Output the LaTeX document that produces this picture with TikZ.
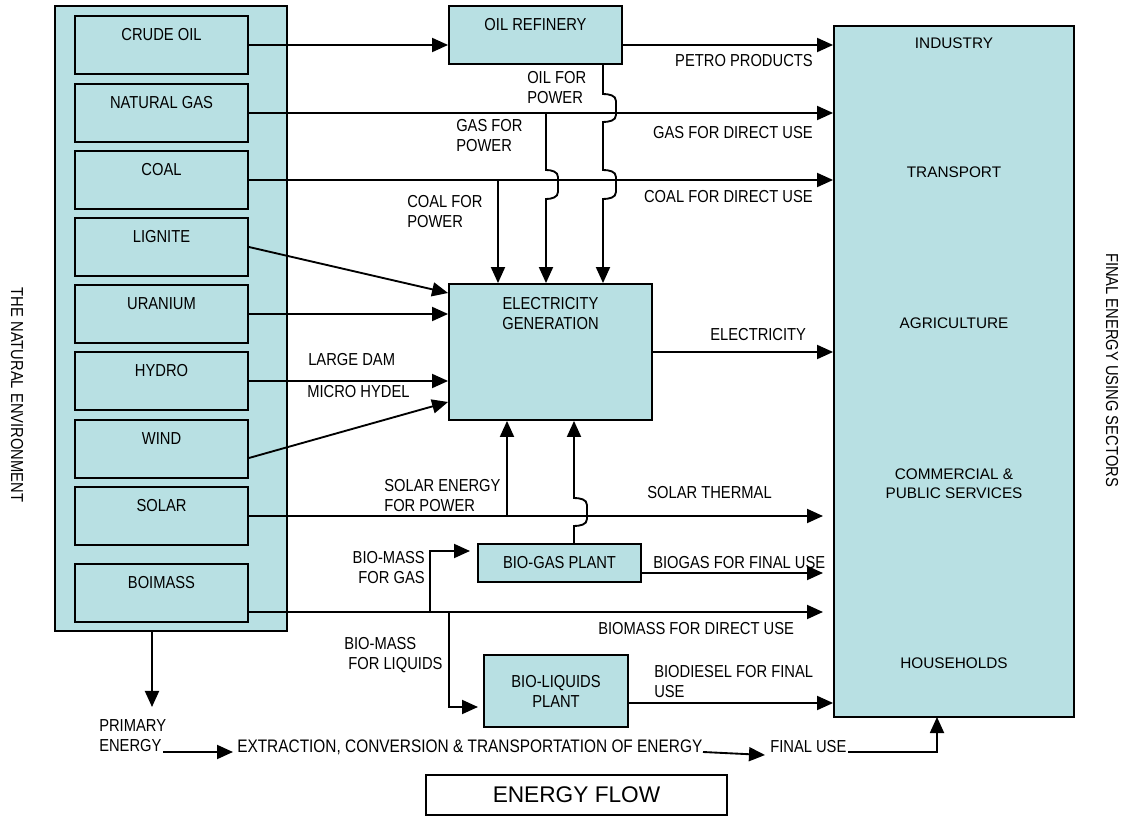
\documentclass[tikz,border=0pt]{standalone}
\usepackage{fontspec}
\setmainfont{Liberation Sans}
\newfontfamily\cond{Liberation Sans}[FakeStretch=0.85]
\usetikzlibrary{arrows.meta,calc}
\definecolor{teal1}{RGB}{184,224,227}
\begin{document}
\begin{tikzpicture}[x=0.75pt,y=-0.75pt,font=\cond\fontsize{13}{15}\selectfont]
\tikzset{
 box/.style={draw, fill=teal1, line width=1.4pt, inner sep=0pt},
 srcbox/.style={box, minimum width=129.75pt, minimum height=43.5pt, text height=18.75pt, text depth=24.75pt},
 lab/.style={inner sep=0pt, align=left},
 conn/.style={line width=1.4pt},
 arr/.style={conn, -{Triangle[length=12pt,width=10.5pt]}},
 seclab/.style={font=\rmfamily\fontsize{11.5}{14}\selectfont, align=center, inner sep=0pt},
}
\useasboundingbox (0,0) rectangle (1133,816);

% natural environment
\node[box, minimum width=174pt, minimum height=468.75pt] (env) at (171,318.5) {};
\node[srcbox] (crude) at (161.5,45) {CRUDE OIL};
\node[srcbox] (natgas) at (161.5,113) {NATURAL GAS};
\node[srcbox] (coal) at (161.5,180) {COAL};
\node[srcbox] (lignite) at (161.5,247) {LIGNITE};
\node[srcbox] (uranium) at (161.5,314) {URANIUM};
\node[srcbox] (hydro) at (161.5,381) {HYDRO};
\node[srcbox] (wind) at (161.5,449) {WIND};
\node[srcbox] (solar) at (161.5,516) {SOLAR};
\node[srcbox] (biomass) at (161.5,593) {BOIMASS};
\node[lab, rotate=-90] (natenv) at (17,395) {THE NATURAL ENVIRONMENT};

% processes
\node[srcbox] (refinery) at (535.5,35) {OIL REFINERY};
\node[box, minimum width=152.25pt, minimum height=102pt] (elec) at (550.5,352) {};
\node[lab, align=center, anchor=north] (elecL) at (550.5,297) {ELECTRICITY\\GENERATION};
\node[box, minimum width=122.25pt, minimum height=28.5pt] (biogas) at (559.5,563) {BIO-GAS PLANT};
\node[box, minimum width=108pt, minimum height=54pt, align=center] (bioliq) at (556,691) {BIO-LIQUIDS\\PLANT};

% sectors
\node[box, minimum width=180pt, minimum height=518.25pt] (sectors) at (954,371.5) {};
\node[seclab] (industry) at (954,43) {INDUSTRY};
\node[seclab] (transport) at (954,172) {TRANSPORT};
\node[seclab] (agri) at (954,323) {AGRICULTURE};
\node[seclab] (comm) at (954,484) {COMMERCIAL \&\\PUBLIC SERVICES};
\node[seclab] (house) at (954,663) {HOUSEHOLDS};
\node[lab, rotate=-90] (finsec) at (1112,370) {FINAL ENERGY USING SECTORS};

% coordinates
\coordinate (pp) at ($(refinery.east)+(0,10)$);
\coordinate (cp) at (498,180);
\coordinate (gp) at (546,113);
\coordinate (op) at (603,64);
\coordinate (sp) at (507,516);
\coordinate (bgup) at (574,544);
\coordinate (solarend) at (823,516);
\coordinate (bmstart) at ($(biomass.east)+(0,19)$);
\coordinate (bmend) at (823,612);
\coordinate (bgout) at ($(biogas.east)+(0,10)$);
\coordinate (bgend) at (823,573);
\coordinate (bmg) at (430,612);
\coordinate (bgin) at (470,551);
\coordinate (bml) at (449,612);
\coordinate (blin) at (478,707);
\coordinate (bdout) at ($(bioliq.east)+(0,12)$);
\coordinate (windout) at ($(wind.east)+(0,9)$);
\coordinate (envout) at (152,631);
\coordinate (envend) at (152,707);

% flows
\draw[arr] (crude.east) -- (crude.east -| refinery.west);
\draw[arr] (pp) -- (pp -| sectors.west);
\draw[arr] (natgas.east) -- (natgas.east -| sectors.west);
\draw[arr] (coal.east) -- (coal.east -| sectors.west);
\draw[arr] (lignite.east) -- ($(elec.west)+(0,-59)$);
\draw[arr] (uranium.east) -- (uranium.east -| elec.west);
\draw[arr] (hydro.east) -- (hydro.east -| elec.west);
\draw[arr] (windout) -- ($(elec.west)+(0,50)$);
\draw[arr] (solar.east) -- (solarend);
\draw[arr] (bmstart) -- (bmend);
\draw[arr] (elec.east) -- (elec.east -| sectors.west);
\draw[arr] (bgout) -- (bgend);
\draw[arr] (bdout) -- (bdout -| sectors.west);

\draw[arr] (cp) -- (cp |- elec.north);
\draw[arr] (gp) -- (546,170) to[out=0,in=90] (558,177) -- (558,192) to[out=-90,in=0] (546,199) -- (gp |- elec.north);
\draw[arr] (op) -- (603,94) to[out=0,in=90] (616,101) -- (616,115) to[out=-90,in=0] (603,122) -- (603,170) to[out=0,in=90] (616,177) -- (616,192) to[out=-90,in=0] (603,199) -- (op |- elec.north);
\draw[arr] (sp) -- (sp |- elec.south);
\draw[arr] (bgup) -- (574,526) to[out=0,in=-90] (587,519) -- (587,505) to[out=90,in=0] (574,498) -- (bgup |- elec.south);
\draw[arr] (bmg) |- (bgin);
\draw[arr] (bml) |- (blin);
\draw[arr] (envout) -- (envend);

% flow labels
\node[lab, anchor=east] (petroL) at (813,61) {PETRO PRODUCTS};
\node[lab, anchor=east] (gasdL) at (813,133) {GAS FOR DIRECT USE};
\node[lab, anchor=east] (coaldL) at (813,197) {COAL FOR DIRECT USE};
\node[lab, anchor=west] (oilpL) at (527,88) {OIL FOR\\POWER};
\node[lab, anchor=west] (gaspL) at (456,136) {GAS FOR\\POWER};
\node[lab, anchor=west] (coalpL) at (407,212) {COAL FOR\\POWER};
\node[lab, anchor=west] (elecoL) at (710,335) {ELECTRICITY};
\node[lab, anchor=west] (damL) at (308,360) {LARGE DAM};
\node[lab, anchor=west] (microL) at (307,392) {MICRO HYDEL};
\node[lab, anchor=west] (solpL) at (384,496) {SOLAR ENERGY\\FOR POWER};
\node[lab, anchor=west] (soltL) at (647,493) {SOLAR THERMAL};
\node[lab, anchor=east, align=right] (bmgL) at (425,568) {BIO-MASS\\FOR GAS};
\node[lab, anchor=west] (bgfL) at (653,563) {BIOGAS FOR FINAL USE};
\node[lab, anchor=west] (bmdL) at (598,629) {BIOMASS FOR DIRECT USE};
\node[lab, anchor=west] (bmlL) at (344,655) {BIO-MASS\\\ FOR LIQUIDS};
\node[lab, anchor=west] (bdL) at (654,682) {BIODIESEL FOR FINAL\\USE};

% bottom row
\node[lab, anchor=west] (primary) at (99,736) {PRIMARY\\ENERGY};
\node[lab, anchor=west, font=\cond\fontsize{13.6}{15}\selectfont] (extract) at (237,747) {EXTRACTION, CONVERSION \& TRANSPORTATION OF ENERGY};
\node[lab, anchor=west] (finaluse) at (770,747) {FINAL USE};
\coordinate (pe1) at (163,752);
\coordinate (pe2) at (233,752);
\coordinate (ex1) at (703,752);
\coordinate (ex2) at (765,755);
\coordinate (fu1) at (848,752);
\coordinate (fu2) at (937,717);
\draw[arr] (pe1) -- (pe2);
\draw[arr] (ex1) -- (ex2);
\draw[arr] (fu1) -| (fu2);

\node[draw, line width=1.4pt, minimum width=225.75pt, minimum height=30pt, font=\rmfamily\fontsize{17}{20}\selectfont] (flow) at (576.5,795) {ENERGY FLOW};
\end{tikzpicture}
\end{document}
